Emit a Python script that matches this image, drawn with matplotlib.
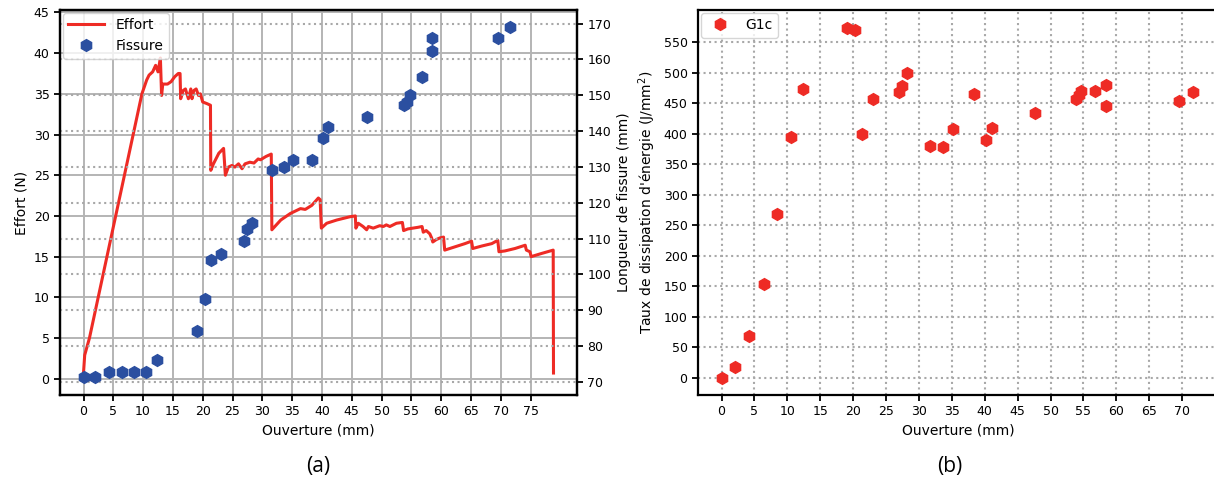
import matplotlib
matplotlib.use("Agg")
import matplotlib.pyplot as plt
import numpy as np

# ---------------- data ----------------
effort_x = [0, 0.2, 1.0, 5.4, 9.8, 10.6, 11.0, 11.6, 12.1, 12.5, 12.9, 13.1, 13.3,
            14.1, 14.7, 15.3, 15.9, 16.2, 16.3, 16.7, 17.1, 17.6, 18.0, 18.2, 18.5,
            18.9, 19.3, 19.6, 20.0, 20.7, 21.3, 21.35, 21.8, 22.7, 23.5, 23.8, 24.3,
            24.9, 25.4, 26.0, 26.6, 27.1, 27.9, 28.6, 29.3, 29.7, 30.6, 31.5, 31.6,
            33.1, 34.7, 36.4, 37.2, 38.3, 39.4, 39.7, 39.9, 40.8, 42.5, 43.6, 44.7,
            45.6, 45.7, 46.1, 46.9, 47.5, 47.8, 48.6, 49.7, 50.3, 50.8, 51.4, 52.5,
            53.5, 53.7, 54.4, 56.1, 56.8, 57.0, 57.5, 58.1, 58.4, 58.6, 59.2, 59.8,
            60.4, 60.6, 62.3, 64.0, 65.1, 65.3, 66.8, 68.5, 69.5, 69.7, 70.7, 72.4,
            74.1, 74.3, 74.9, 75.1, 76.9, 78.8, 78.85]
effort_y = [0.7, 2.9, 5.0, 20.0, 35.0, 36.7, 37.3, 37.7, 38.5, 37.7, 39.4, 34.8, 36.2,
            36.2, 36.5, 37.1, 37.5, 37.5, 34.4, 35.4, 35.6, 34.4, 35.6, 34.4, 35.4,
            35.6, 34.8, 35.0, 34.0, 33.8, 33.6, 25.6, 26.4, 27.7, 28.3, 25.0, 26.0,
            26.2, 26.0, 26.4, 25.8, 26.4, 26.6, 26.5, 27.0, 26.9, 27.3, 27.6, 18.3,
            19.5, 20.3, 20.9, 20.8, 21.3, 22.2, 22.0, 18.5, 19.1, 19.5, 19.7, 19.9,
            20.0, 18.5, 19.1, 18.7, 18.3, 18.7, 18.5, 18.8, 18.7, 18.9, 18.7, 19.1,
            19.2, 18.2, 18.4, 18.6, 18.7, 18.0, 18.2, 17.8, 17.3, 16.8, 17.1, 17.3,
            17.4, 15.8, 16.2, 16.6, 16.9, 16.0, 16.3, 16.6, 17.0, 15.6, 15.7, 16.0,
            16.4, 15.8, 15.6, 15.0, 15.4, 15.8, 0.7]

fissure_x = [0, 2.0, 4.2, 6.4, 8.5, 10.5, 12.4, 19.1, 20.3, 21.4, 23.0, 27.0, 27.5,
             28.2, 31.7, 33.7, 35.2, 38.4, 40.2, 41.1, 47.6, 53.8, 54.3, 54.7, 56.8,
             58.4, 58.4, 69.5, 71.6]
fissure_y = [71.2, 71.2, 72.7, 72.7, 72.7, 72.7, 76.2, 84.2, 93.2, 104.1, 105.7, 109.2,
             112.7, 114.2, 129.0, 130.0, 131.8, 131.8, 138.0, 141.0, 143.9, 147.3,
             148.0, 150.0, 155.0, 162.3, 165.9, 165.9, 168.9]
g1c = [0, 17, 68, 153, 268, 395, 473, 574, 570, 399, 456, 469, 478, 499, 380, 378,
       408, 465, 390, 409, 433, 457, 463, 470, 470, 480, 446, 453, 469]

xticks_a = list(range(0, 80, 5))
yticks_a = list(range(0, 50, 5))
yticks_a2 = list(range(70, 180, 10))
xticks_b = list(range(0, 75, 5))
yticks_b = list(range(0, 600, 50))

# ---------------- style ----------------
RED = '#ee2b25'
BLUE = '#2b4fa0'
W, H = 1214, 486
plt.rcParams['font.family'] = ['DejaVu Sans']
plt.rcParams['xtick.labelsize'] = 9
plt.rcParams['ytick.labelsize'] = 9
plt.rcParams['axes.labelsize'] = 10
plt.rcParams['axes.linewidth'] = 1.6

fig = plt.figure(figsize=(W / 100, H / 100), dpi=100)

# ---------------- panel (a) ----------------
ax1 = fig.add_axes([60 / W, 91 / H, 517 / W, 385 / H])
l1, = ax1.plot(effort_x, effort_y, color=RED, lw=2.2, label='Effort')
ax1.set_ylim(-2, 45.3)
ax1.set_xticks(xticks_a)
ax1.set_yticks(yticks_a)
ax1.grid(True, color='#b4b4b4', lw=1.4)
ax1.set_axisbelow(True)
ax1.set_xlabel('Ouverture (mm)')
ax1.set_ylabel('Effort (N)')

ax2 = ax1.twinx()
p1, = ax2.plot(fissure_x, fissure_y, 'h', color=BLUE, ms=8.5, ls='none', label='Fissure')
ax2.set_yticks(yticks_a2)
ax2.grid(True, axis='y', color='#a8a8a8', ls=':', lw=1.5)
ax2.set_ylabel('Longueur de fissure (mm)')
ax2.legend(handles=[l1, p1], loc='upper left', fontsize=10, framealpha=0.8,
           borderaxespad=0.2, handlelength=2.6)

for ax in (ax1, ax2):
    ax.tick_params(width=1.3, length=4)

# ---------------- panel (b) ----------------
ax3 = fig.add_axes([698 / W, 91 / H, 521 / W, 385 / H])
ax3.plot(fissure_x, g1c, 'h', color=RED, ms=8.5, ls='none', label='G1c')
ax3.set_xlim(-3.575, 75.6)
ax3.set_xticks(xticks_b)
ax3.set_yticks(yticks_b)
ax3.grid(True, color='#a8a8a8', ls=':', lw=1.5)
ax3.set_axisbelow(True)
ax3.set_xlabel('Ouverture (mm)')
ax3.set_ylabel("Taux de dissipation d'énergie (J/mm$^2$)")
ax3.legend(loc='upper left', fontsize=10, framealpha=0.8, borderaxespad=0.2,
           handlelength=2.0)
ax3.tick_params(width=1.3, length=4)

fig.text(318 / W, 1 - 466 / H, '(a)', ha='center', va='center', fontsize=15,
         family=['Open Sans', 'DejaVu Sans'])
fig.text(950 / W, 1 - 466 / H, '(b)', ha='center', va='center', fontsize=15,
         family=['Open Sans', 'DejaVu Sans'])

fig.savefig('out.png', dpi=100)
